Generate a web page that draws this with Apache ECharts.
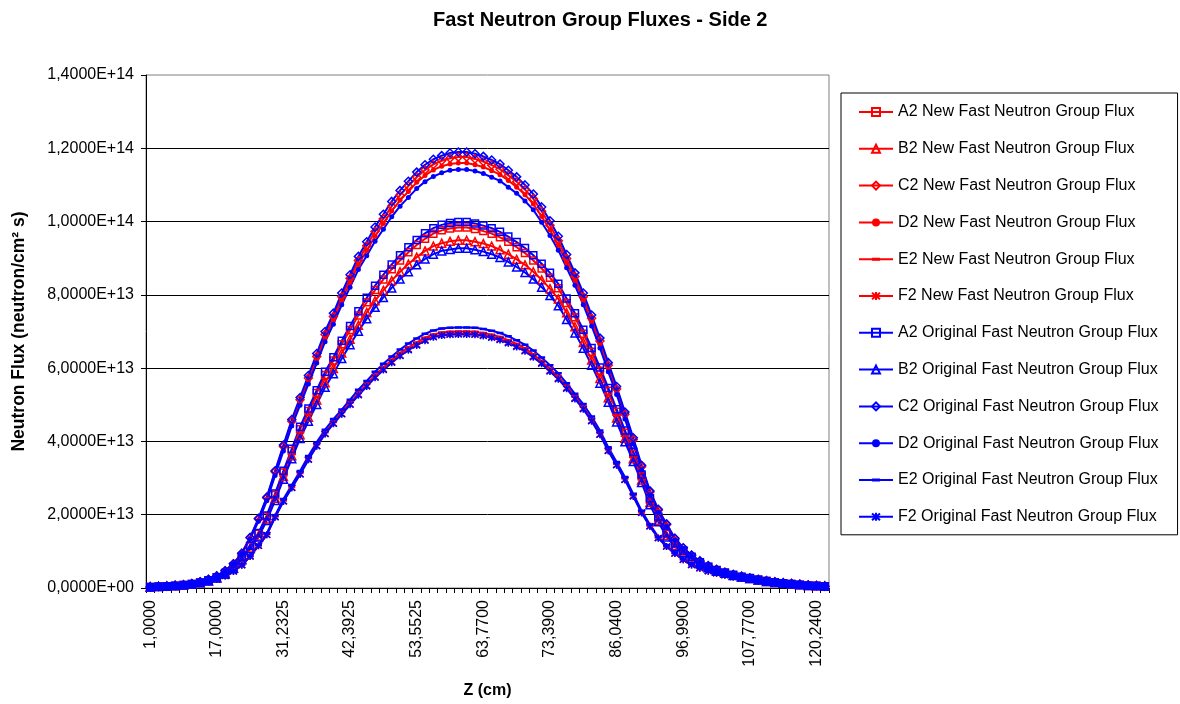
<!DOCTYPE html>
<html>
<head>
<meta charset="utf-8">
<script src="https://cdn.jsdelivr.net/npm/echarts@6/dist/echarts.min.js"></script>
<style>
html, body { margin: 0; padding: 0; background: #fff; }
#chart { width: 1180px; height: 704px; }
</style>
</head>
<body>
<div id="chart"></div>
<script>
// Z labels shown on the category axis (every 8th point)
const zLabels = ['1,0000', '17,0000', '31,2325', '42,3925', '53,5525', '63,7700',
    '73,3900', '86,0400', '96,9900', '107,7700', '120,2400'];
const yLabels = ['0,0000E+00', '2,0000E+13', '4,0000E+13', '6,0000E+13',
    '8,0000E+13', '1,0000E+14', '1,2000E+14', '1,4000E+14'];

// fluxes, in units of 1E13 neutron/cm2 s
const a2New = [0.03,0.04,0.05,0.06,0.08,0.11,0.15,0.21,0.29,0.41,0.58,0.83,1.14,1.48,1.95,2.54,3.15,3.74,4.33,4.83,5.32,5.81,6.21,6.65,7.04,7.44,7.8,8.13,8.42,8.7,8.94,9.16,9.36,9.53,9.67,9.76,9.81,9.84,9.84,9.8,9.74,9.67,9.57,9.45,9.3,9.14,8.94,8.72,8.47,8.18,7.78,7.39,6.94,6.45,5.93,5.38,4.81,4.24,3.66,3.05,2.41,1.92,1.48,1.2,1.01,0.84,0.69,0.57,0.48,0.41,0.35,0.3,0.26,0.22,0.19,0.16,0.13,0.11,0.09,0.07,0.06,0.05];
const b2New = [0.03,0.04,0.05,0.06,0.08,0.1,0.14,0.2,0.28,0.39,0.55,0.79,1.09,1.42,1.88,2.45,3.04,3.61,4.18,4.66,5.13,5.6,5.99,6.41,6.79,7.17,7.52,7.84,8.12,8.39,8.63,8.84,9.03,9.2,9.33,9.41,9.46,9.49,9.49,9.45,9.4,9.33,9.23,9.11,8.97,8.82,8.63,8.41,8.17,7.89,7.51,7.13,6.7,6.22,5.72,5.19,4.64,4.09,3.53,2.95,2.33,1.85,1.43,1.16,0.98,0.82,0.68,0.56,0.47,0.4,0.35,0.3,0.26,0.22,0.18,0.15,0.13,0.11,0.09,0.07,0.06,0.05];
const c2New = [0.03,0.04,0.05,0.07,0.09,0.12,0.17,0.24,0.33,0.47,0.66,0.95,1.37,1.88,2.46,3.17,3.86,4.55,5.14,5.73,6.32,6.92,7.41,7.95,8.45,8.94,9.34,9.73,10.08,10.42,10.72,10.97,11.21,11.41,11.56,11.66,11.73,11.76,11.76,11.71,11.64,11.54,11.43,11.26,11.09,10.87,10.62,10.28,9.9,9.48,8.99,8.5,7.95,7.36,6.74,6.08,5.43,4.74,4.05,3.31,2.62,2.12,1.73,1.34,1.09,0.89,0.73,0.6,0.5,0.43,0.37,0.32,0.27,0.23,0.2,0.17,0.14,0.12,0.1,0.08,0.06,0.05];
const d2New = [0.03,0.04,0.05,0.07,0.09,0.12,0.17,0.24,0.33,0.47,0.66,0.95,1.36,1.85,2.42,3.12,3.8,4.49,5.07,5.66,6.24,6.83,7.31,7.85,8.34,8.82,9.21,9.6,9.95,10.29,10.58,10.82,11.07,11.26,11.41,11.51,11.57,11.6,11.6,11.55,11.49,11.39,11.28,11.12,10.94,10.73,10.48,10.14,9.77,9.36,8.87,8.39,7.85,7.26,6.65,6.0,5.36,4.68,4.0,3.27,2.58,2.1,1.71,1.33,1.08,0.88,0.72,0.6,0.5,0.42,0.36,0.31,0.27,0.23,0.2,0.17,0.14,0.12,0.1,0.08,0.06,0.05];
const e2New = [0.03,0.04,0.05,0.06,0.08,0.1,0.13,0.18,0.24,0.34,0.46,0.63,0.87,1.16,1.47,1.95,2.39,2.76,3.14,3.54,3.92,4.25,4.53,4.8,5.06,5.32,5.57,5.81,6.02,6.22,6.41,6.57,6.7,6.83,6.92,6.97,6.99,7.0,7.0,6.99,6.96,6.91,6.85,6.76,6.66,6.54,6.38,6.19,5.98,5.77,5.51,5.22,4.94,4.6,4.23,3.78,3.39,2.99,2.53,2.07,1.7,1.38,1.14,0.95,0.78,0.64,0.54,0.46,0.4,0.35,0.3,0.26,0.23,0.2,0.17,0.14,0.12,0.1,0.08,0.07,0.06,0.05];
const f2New = [0.03,0.04,0.05,0.06,0.08,0.1,0.13,0.18,0.24,0.33,0.45,0.62,0.86,1.15,1.45,1.94,2.37,2.74,3.11,3.51,3.88,4.21,4.49,4.75,5.02,5.28,5.52,5.76,5.97,6.17,6.35,6.51,6.64,6.77,6.86,6.91,6.93,6.94,6.94,6.93,6.9,6.85,6.79,6.7,6.6,6.48,6.32,6.14,5.93,5.72,5.46,5.18,4.9,4.57,4.19,3.75,3.36,2.96,2.51,2.06,1.69,1.37,1.13,0.94,0.77,0.63,0.54,0.46,0.4,0.35,0.3,0.26,0.23,0.2,0.17,0.14,0.12,0.1,0.08,0.07,0.06,0.05];

const a2Orig = [0.03,0.04,0.05,0.06,0.08,0.11,0.15,0.21,0.29,0.41,0.58,0.84,1.15,1.5,1.98,2.58,3.2,3.8,4.4,4.9,5.4,5.9,6.3,6.75,7.15,7.55,7.92,8.25,8.55,8.83,9.08,9.3,9.5,9.68,9.82,9.91,9.96,9.99,9.99,9.95,9.89,9.82,9.72,9.59,9.44,9.28,9.08,8.85,8.6,8.3,7.9,7.5,7.05,6.55,6.02,5.46,4.88,4.3,3.72,3.1,2.45,1.95,1.5,1.22,1.02,0.85,0.7,0.58,0.49,0.42,0.36,0.31,0.27,0.23,0.19,0.16,0.13,0.11,0.09,0.07,0.06,0.05];
const b2Orig = [0.03,0.04,0.05,0.06,0.08,0.1,0.14,0.19,0.27,0.38,0.54,0.77,1.07,1.39,1.84,2.39,2.97,3.53,4.08,4.55,5.01,5.48,5.85,6.26,6.64,7.01,7.35,7.66,7.93,8.19,8.43,8.63,8.82,8.98,9.11,9.2,9.24,9.27,9.27,9.23,9.18,9.11,9.02,8.9,8.76,8.61,8.43,8.21,7.98,7.7,7.33,6.96,6.54,6.08,5.59,5.07,4.53,3.99,3.45,2.88,2.27,1.81,1.39,1.13,0.96,0.8,0.66,0.55,0.46,0.4,0.34,0.3,0.26,0.22,0.18,0.15,0.13,0.11,0.09,0.07,0.06,0.05];
const c2Orig = [0.03,0.04,0.05,0.07,0.09,0.12,0.17,0.24,0.33,0.47,0.66,0.95,1.38,1.9,2.48,3.2,3.9,4.6,5.2,5.8,6.4,7.0,7.5,8.05,8.55,9.05,9.45,9.85,10.2,10.55,10.85,11.1,11.35,11.55,11.7,11.8,11.87,11.9,11.9,11.85,11.78,11.68,11.57,11.4,11.22,11.0,10.75,10.4,10.02,9.6,9.1,8.6,8.05,7.45,6.82,6.15,5.5,4.8,4.1,3.35,2.65,2.15,1.75,1.36,1.1,0.9,0.74,0.61,0.51,0.43,0.37,0.32,0.27,0.23,0.2,0.17,0.14,0.12,0.1,0.08,0.06,0.05];
const d2Orig = [0.03,0.04,0.05,0.07,0.09,0.12,0.17,0.24,0.33,0.47,0.66,0.94,1.34,1.82,2.38,3.07,3.74,4.42,4.99,5.57,6.14,6.72,7.2,7.73,8.21,8.69,9.07,9.46,9.79,10.13,10.42,10.66,10.9,11.09,11.23,11.33,11.4,11.42,11.42,11.38,11.31,11.21,11.11,10.94,10.77,10.56,10.32,9.98,9.62,9.22,8.74,8.26,7.73,7.15,6.55,5.9,5.28,4.61,3.94,3.22,2.54,2.06,1.68,1.31,1.07,0.87,0.71,0.59,0.49,0.42,0.36,0.31,0.26,0.22,0.19,0.16,0.14,0.12,0.1,0.08,0.06,0.05];
const e2Orig = [0.03,0.04,0.05,0.06,0.08,0.1,0.13,0.18,0.25,0.34,0.46,0.64,0.88,1.18,1.49,1.98,2.43,2.81,3.19,3.6,3.98,4.32,4.61,4.87,5.14,5.41,5.65,5.9,6.12,6.32,6.51,6.67,6.81,6.94,7.03,7.08,7.1,7.11,7.11,7.1,7.07,7.02,6.96,6.87,6.76,6.64,6.48,6.29,6.08,5.86,5.59,5.3,5.02,4.68,4.3,3.84,3.44,3.03,2.57,2.11,1.73,1.4,1.16,0.96,0.79,0.65,0.55,0.47,0.41,0.35,0.3,0.26,0.23,0.2,0.17,0.14,0.12,0.1,0.08,0.07,0.06,0.05];
const f2Orig = [0.03,0.04,0.05,0.06,0.08,0.1,0.13,0.18,0.24,0.33,0.45,0.62,0.86,1.15,1.45,1.93,2.36,2.73,3.1,3.5,3.87,4.2,4.48,4.74,5.0,5.26,5.5,5.74,5.95,6.15,6.33,6.49,6.62,6.75,6.84,6.89,6.91,6.92,6.92,6.91,6.88,6.83,6.77,6.68,6.58,6.46,6.3,6.12,5.91,5.7,5.44,5.16,4.88,4.55,4.18,3.74,3.35,2.95,2.5,2.05,1.68,1.36,1.13,0.94,0.77,0.63,0.54,0.46,0.4,0.35,0.3,0.26,0.23,0.2,0.17,0.14,0.12,0.1,0.08,0.07,0.06,0.05];

const FONT = '"Liberation Sans", Arial, sans-serif';
const RED = '#ff0000';
const BLUE = '#0000ff';
// short dash marker, padded to a square box so it keeps its shape in the legend too
const DASH = 'path://M0,0L0.01,0Z M0,10L0.01,10Z M0,3.2H10V6.8H0Z';
const STAR = 'path://M0,0L10,10M10,0L0,10M5,-1L5,11';

// one excel style line series
function line(name, data, color, symbol, size, kind) {
    let itemStyle;
    if (kind === 'hollow') {
        itemStyle = { color: 'rgba(255,255,255,0)', borderColor: color, borderWidth: 1.5 };
    } else if (kind === 'stroke') {
        itemStyle = { color: color, borderColor: color, borderWidth: 1.5 };
    } else {
        itemStyle = { color: color };
    }
    return {
        name: name,
        type: 'line',
        data: data,
        symbol: symbol,
        symbolSize: size,
        showAllSymbol: true,
        lineStyle: { color: color, width: 2 },
        itemStyle: itemStyle,
        emphasis: { disabled: true }
    };
}

const series = [
    line('A2 New Fast Neutron Group Flux', a2New, RED, 'rect', 7, 'hollow'),
    line('B2 New Fast Neutron Group Flux', b2New, RED, 'triangle', 8, 'hollow'),
    line('C2 New Fast Neutron Group Flux', c2New, RED, 'diamond', 8, 'hollow'),
    line('D2 New Fast Neutron Group Flux', d2New, RED, 'circle', 5, 'fill'),
    line('E2 New Fast Neutron Group Flux', e2New, RED, DASH, 7, 'fill'),
    line('F2 New Fast Neutron Group Flux', f2New, RED, STAR, 7, 'stroke'),
    line('A2 Original Fast Neutron Group Flux', a2Orig, BLUE, 'rect', 7, 'hollow'),
    line('B2 Original Fast Neutron Group Flux', b2Orig, BLUE, 'triangle', 8, 'hollow'),
    line('C2 Original Fast Neutron Group Flux', c2Orig, BLUE, 'diamond', 8, 'hollow'),
    line('D2 Original Fast Neutron Group Flux', d2Orig, BLUE, 'circle', 5, 'fill'),
    line('E2 Original Fast Neutron Group Flux', e2Orig, BLUE, DASH, 7, 'fill'),
    line('F2 Original Fast Neutron Group Flux', f2Orig, BLUE, STAR, 7, 'stroke')
];

const cats = a2New.map((v, i) => i);

const chart = echarts.init(document.getElementById('chart'), null, { renderer: 'canvas' });
chart.setOption({
    animation: false,
    textStyle: { fontFamily: FONT, color: '#000' },
    title: {
        text: 'Fast Neutron Group Fluxes - Side 2',
        left: 428,
        top: 5,
        textStyle: { fontFamily: FONT, fontSize: 20, fontWeight: 'bold', color: '#000' }
    },
    legend: {
        orient: 'vertical',
        left: 841,
        top: 93,
        padding: [11, 19, 10, 17],
        itemWidth: 34,
        itemHeight: 10,
        itemGap: 20.8,
        borderColor: '#000',
        borderWidth: 1,
        selectedMode: false,
        textStyle: { fontFamily: FONT, fontSize: 16, color: '#000' },
        data: series.map(s => s.name)
    },
    grid: {
        left: 146,
        right: 351,
        top: 75,
        bottom: 113,
        show: true,
        borderColor: '#808080',
        borderWidth: 1
    },
    xAxis: {
        type: 'category',
        data: cats,
        boundaryGap: true,
        name: 'Z (cm)',
        nameLocation: 'middle',
        nameGap: 95,
        nameTextStyle: { fontFamily: FONT, fontSize: 16, fontWeight: 'bold', color: '#000' },
        axisLine: { lineStyle: { color: '#000', width: 1 } },
        axisTick: { show: true, interval: 0, length: 5, lineStyle: { color: '#000' } },
        axisLabel: {
            interval: 7,
            rotate: 90,
            margin: 12,
            fontFamily: FONT,
            fontSize: 16,
            color: '#000',
            formatter: (v, i) => zLabels[i / 8]
        },
        splitLine: { show: false }
    },
    yAxis: {
        type: 'value',
        min: 0,
        max: 14,
        interval: 2,
        name: 'Neutron Flux (neutron/cm² s)',
        nameLocation: 'middle',
        nameGap: 118,
        nameRotate: 90,
        nameTextStyle: { fontFamily: FONT, fontSize: 17.5, fontWeight: 'bold', color: '#000' },
        axisLine: { show: true, lineStyle: { color: '#000', width: 1 } },
        axisTick: { show: true, length: 5, lineStyle: { color: '#000' } },
        axisLabel: {
            margin: 12,
            fontFamily: FONT,
            fontSize: 16,
            color: '#000',
            formatter: v => yLabels[Math.round(v / 2)]
        },
        splitLine: { show: true, showMaxLine: false, lineStyle: { color: '#000', width: 1 } }
    },
    series: series
});
</script>
</body>
</html>
